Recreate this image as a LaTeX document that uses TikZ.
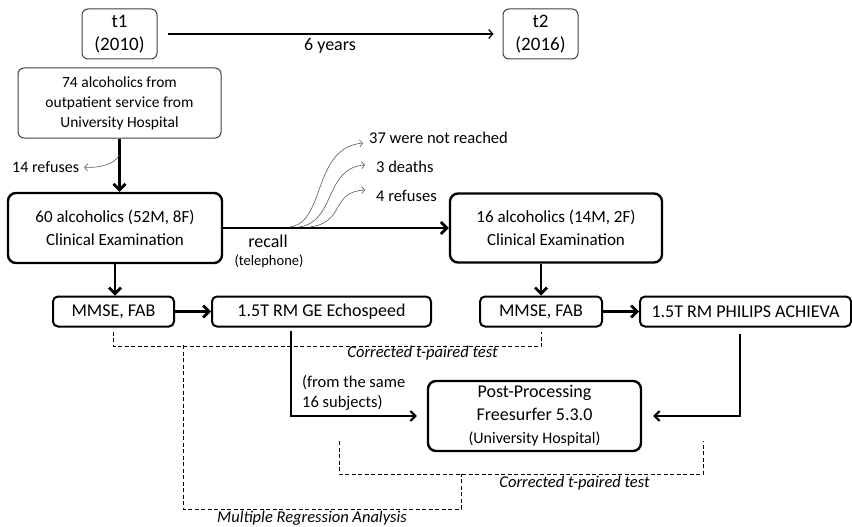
\documentclass[tikz,border=0pt]{standalone}
\usepackage{fontspec}
\setmainfont{Carlito}
\usetikzlibrary{arrows.meta}

\begin{document}
\begin{tikzpicture}[x=1pt, y=-1pt,
    mainbox/.style={draw, line width=2.4pt, rounded corners=8pt, align=center, inner sep=0pt,
        font=\fontsize{18}{23}\selectfont},
    timebox/.style={draw=black!75, line width=1pt, rounded corners=6pt, align=center, inner sep=0pt},
    flowarrow/.style={line width=2.8pt, -{Straight Barb[length=6pt, width=12pt]}},
    feedarrow/.style={line width=2pt, -{Straight Barb[length=5pt, width=10pt]}},
    droparrow/.style={draw=black!65, line width=0.6pt, -{Straight Barb[length=3pt, width=7pt]}},
    testline/.style={line width=0.9pt, dash pattern=on 4pt off 2.5pt},
    testlabel/.style={inner sep=0pt, font=\fontsize{16.5}{19}\selectfont\itshape},
    plainlabel/.style={inner sep=0pt, font=\fontsize{16.5}{20}\selectfont}]
    \useasboundingbox (0,0) rectangle (852,527);

    % time line
    \node[timebox, minimum width=75pt, minimum height=50pt, font=\fontsize{19}{23}\selectfont]
        (tA) at (119.5,34) {t1\\(2010)};
    \node[timebox, minimum width=75pt, minimum height=50pt, font=\fontsize{19}{23}\selectfont]
        (tB) at (540.5,34) {t2\\(2016)};
    \draw[line width=1.2pt, -{Straight Barb[length=4pt, width=9pt]}, shorten <=10pt, shorten >=9pt]
        (tA.east) -- node[below=4pt, inner sep=0pt, font=\fontsize{18}{22}\selectfont] (gap) {6 years} (tB.west);

    % first visit
    \node[timebox, minimum width=203pt, minimum height=70pt, font=\fontsize{15.5}{20}\selectfont]
        (pop) at (119.5,103) {74 alcoholics from\\outpatient service from\\University Hospital};
    \node[mainbox, minimum width=214pt, minimum height=70pt, font=\fontsize{17}{23}\selectfont]
        (base) at (115,228) {60 alcoholics (52M, 8F)\\Clinical Examination};
    \draw[flowarrow] (pop.south) -- (pop.south |- base.north);

    \node[plainlabel, font=\fontsize{16}{20}\selectfont, anchor=west] (quitA) at (12,167) {14 refuses};
    \coordinate (splitA) at (119.5,155);
    \draw[droparrow, shorten >=5pt] (splitA) .. controls (114,164) and (102,168) .. (quitA.east);

    % recall
    \node[mainbox, minimum width=212pt, minimum height=69pt, font=\fontsize{17}{23}\selectfont]
        (follow) at (556,228) {16 alcoholics (14M, 2F)\\Clinical Examination};
    \draw[flowarrow] (base.east) -- (follow.west);
    \node[inner sep=0pt, font=\fontsize{18}{22}\selectfont] (recall) at (268,241) {recall};
    \node[inner sep=0pt, font=\fontsize{14.5}{18}\selectfont] (phone) at (269,261) {(telephone)};

    \node[inner sep=0pt, anchor=west, font=\fontsize{16.5}{19}\selectfont] (lostA) at (369,138) {37 were not reached};
    \node[inner sep=0pt, anchor=west, font=\fontsize{16.5}{19}\selectfont] (lostB) at (376,167) {3 deaths};
    \node[inner sep=0pt, anchor=west, font=\fontsize{16.5}{19}\selectfont] (lostC) at (376,196) {4 refuses};
    \coordinate (exitA) at (290,227);
    \coordinate (exitB) at (299,227);
    \coordinate (exitC) at (310,227);
    \draw[droparrow] (exitA) .. controls (326,222) and (312,148) .. (363,143);
    \draw[droparrow] (exitB) .. controls (336,222) and (324,168) .. (365,165);
    \draw[droparrow] (exitC) .. controls (346,222) and (330,192) .. (365,190);

    % tests and scans
    \node[mainbox, line width=2pt, rounded corners=5pt, minimum width=121pt, minimum height=30pt]
        (mmseA) at (113.5,311.5) {MMSE, FAB};
    \node[mainbox, line width=2pt, rounded corners=5pt, minimum width=219pt, minimum height=30pt]
        (mriA) at (321.5,311.5) {1.5T RM GE Echospeed};
    \node[mainbox, line width=2pt, rounded corners=5pt, minimum width=122pt, minimum height=30pt]
        (mmseB) at (541,311.5) {MMSE, FAB};
    \node[mainbox, line width=2pt, rounded corners=5pt, minimum width=211pt, minimum height=30pt]
        (mriB) at (745.5,311.5) {1.5T RM PHILIPS ACHIEVA};
    \draw[flowarrow] (base.south) -- (base.south |- mmseA.north);
    \draw[flowarrow] (mmseB.north |- follow.south) -- (mmseB.north);
    \draw[flowarrow] (mmseA.east) -- (mriA.west);
    \draw[flowarrow] (mmseB.east) -- (mriB.west);

    % post processing
    \node[mainbox, minimum width=213pt, minimum height=70pt] (post) at (534.5,416)
        {Post-Processing\\Freesurfer 5.3.0\\{\fontsize{16}{19}\selectfont(University Hospital)}};
    \draw[feedarrow, shorten <=3pt, shorten >=10pt] ([xshift=-30.5pt]mriA.south) |- (post.west);
    \draw[feedarrow, shorten <=6pt, shorten >=11pt] ([xshift=-5.5pt]mriB.south) |- (post.east);
    \node[plainlabel, anchor=west, align=left] (same) at (302,393) {(from the same\\16 subjects)};

    % statistics
    \coordinate (cliPair) at (183,345);
    \coordinate (mriPairL) at (339,441);
    \coordinate (mriPairR) at (703,441);
    \coordinate (mriPair) at (461,474);
    \draw[testline] ([yshift=-4pt]mmseA.south) -- ++(0,15) -| ([yshift=-4pt]mmseB.south);
    \draw[testline] (mriPairL) -- ++(0,33) -| (mriPairR);
    \draw[testline] (cliPair) -- ++(0,164) -| (mriPair);
    \node[testlabel] (pairTestA) at (422.5,353) {Corrected t-paired test};
    \node[testlabel] (pairTestB) at (574.5,483) {Corrected t-paired test};
    \node[testlabel] (regTest) at (312,518) {Multiple Regression Analysis};
\end{tikzpicture}
\end{document}
